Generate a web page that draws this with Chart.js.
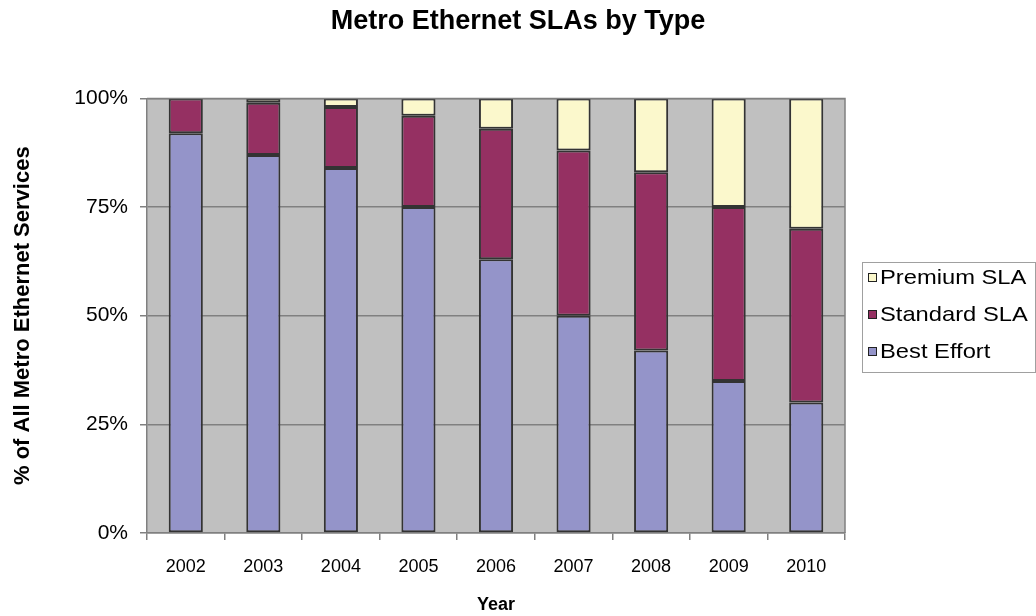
<!DOCTYPE html>
<html><head><meta charset="utf-8">
<script src="https://cdn.jsdelivr.net/npm/chart.js@4.4.1/dist/chart.umd.min.js"></script>
<style>html,body{margin:0;padding:0;background:#fff}#wrap{width:1036px;height:616px}</style>
</head><body><div id="wrap"><canvas id="c" width="1036" height="616"></canvas></div>
<script>
const years = ['2002','2003','2004','2005','2006','2007','2008','2009','2010'];
const bestEffort = [92, 87, 84, 75, 63, 50, 42, 35, 30];
const standardSLA = [8, 12, 14, 21, 30, 38, 41, 40, 40];
const premiumSLA = [0, 1, 2, 4, 7, 12, 17, 25, 30];
const yTicks = [0, 25, 50, 75, 100];

const FONT = '"Liberation Sans", Arial, sans-serif';

const bgPlugin = {
  id: 'bg',
  beforeDraw(chart) {
    const {ctx, chartArea: a} = chart;
    ctx.save();
    ctx.fillStyle = '#c0c0c0';
    ctx.fillRect(a.left, a.top, a.right - a.left, a.bottom - a.top);
    ctx.restore();
  },
  afterDatasetsDraw(chart) {
    const {ctx, chartArea: a} = chart;
    ctx.save();
    ctx.strokeStyle = '#808080';
    ctx.lineWidth = 1.5;
    ctx.beginPath();
    ctx.moveTo(a.left, a.top); ctx.lineTo(a.right, a.top); ctx.lineTo(a.right, a.bottom);
    ctx.stroke();
    ctx.restore();
  }
};

const legendPlugin = {
  id: 'customLegend',
  afterDraw(chart) {
    const ctx = chart.ctx;
    ctx.save();
    const x0 = 862, y0 = 262, w = 173, h = 110;
    ctx.strokeStyle = '#a0a0a0';
    ctx.lineWidth = 1;
    ctx.strokeRect(x0 + 0.5, y0 + 0.5, w, h);
    const order = [2, 1, 0];
    ctx.font = '21px ' + FONT;
    ctx.textBaseline = 'middle';
    order.forEach((di, i) => {
      const ds = chart.data.datasets[di];
      const cy = 277 + i * 37;
      ctx.fillStyle = ds.backgroundColor;
      ctx.fillRect(868, cy - 4, 8, 8);
      ctx.strokeStyle = '#222';
      ctx.lineWidth = 1;
      ctx.strokeRect(868.5, cy - 3.5, 8, 8);
      ctx.fillStyle = '#000';
      ctx.save();
      ctx.translate(880, cy + 1);
      ctx.scale(1.13, 1);
      ctx.fillText(ds.label, 0, 0);
      ctx.restore();
    });
    ctx.restore();
  }
};

new Chart(document.getElementById('c'), {
  type: 'bar',
  data: {
    labels: years,
    datasets: [
      {label: 'Best Effort', data: bestEffort, backgroundColor: '#9494c9', borderColor: '#333333', borderWidth: 2, borderSkipped: false, yAxisID: 'y'},
      {label: 'Standard SLA', data: standardSLA, backgroundColor: '#953062', borderColor: '#333333', borderWidth: 2, borderSkipped: false, yAxisID: 'y'},
      {label: 'Premium SLA', data: premiumSLA, backgroundColor: '#fbf8cc', borderColor: '#333333', borderWidth: 2, borderSkipped: false, yAxisID: 'y'}
    ]
  },
  options: {
    responsive: false,
    animation: false,
    events: [],
    layout: {padding: 0},
    datasets: {bar: {categoryPercentage: 0.44, barPercentage: 1.0}},
    plugins: {
      legend: {display: false},
      tooltip: {enabled: false},
      title: {
        display: true,
        text: 'Metro Ethernet SLAs by Type',
        color: '#000',
        font: {family: FONT, size: 27, weight: 'bold'},
        padding: {top: 5, bottom: 61}
      }
    },
    scales: {
      x: {
        stacked: true,
        grid: {display: true, drawOnChartArea: false, drawTicks: true, tickLength: 7, offset: true, color: '#808080', lineWidth: 1.5},
        border: {display: true, color: '#808080', width: 1.5},
        ticks: {color: '#000', font: {family: FONT, size: 18}, padding: 16},
        title: {display: true, text: 'Year', color: '#000', font: {family: FONT, size: 18, weight: 'bold'}, padding: {top: 10, bottom: 0}},
        afterFit(s) { s.height = 83; }
      },
      y: {
        stacked: true,
        min: 0, max: 100,
        afterBuildTicks(s) { s.ticks = yTicks.map(v => ({value: v})); },
        grid: {color: '#808080', lineWidth: 1.5, drawTicks: true, tickLength: 7},
        border: {display: true, color: '#808080', width: 1.5},
        ticks: {color: '#000', font: {family: FONT, size: 21}, padding: 12, callback: v => v + '%'},
        title: {display: true, text: '% of All Metro Ethernet Services', color: '#000', font: {family: FONT, size: 22, weight: 'bold'}, padding: {top: 10, bottom: 0}},
        afterFit(s) { s.width = 147; }
      },
      legendSpace: {
        position: 'right',
        display: true,
        grid: {display: false, drawTicks: false},
        border: {display: false},
        ticks: {display: false},
        afterFit(s) { s.width = 191; }
      }
    }
  },
  plugins: [bgPlugin, legendPlugin]
});
</script>
</body></html>
